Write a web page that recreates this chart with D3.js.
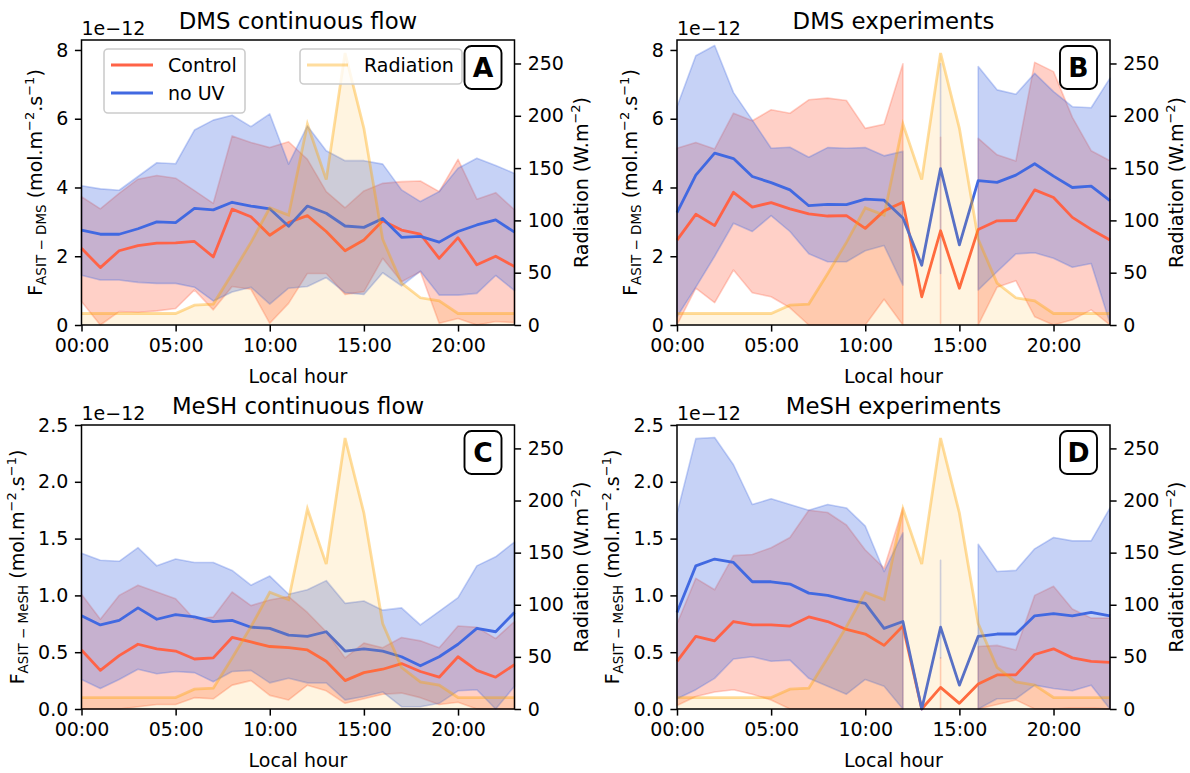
<!DOCTYPE html>
<html><head><meta charset="utf-8">
<script src="https://cdn.jsdelivr.net/npm/d3@7"></script>
<style>body{margin:0;background:#fff} text{font-family:"DejaVu Sans",sans-serif}</style>
</head><body><svg id="c" width="1190" height="773"></svg>
<script>
// ---------- data ----------
const hours = [0,1,2,3,4,5,6,7,8,9,10,11,12,13,14,15,16,17,18,19,20,21,22,23];
const xTickValues = [0,5,10,15,20];
const xTickLabels = ["00:00","05:00","10:00","15:00","20:00"];
const radTicks = [0,50,100,150,200,250];
const dmsTicks = [0,2,4,6,8];
const meshTicks = [0,0.5,1,1.5,2,2.5];
const radiation = [11,11,11,11,11,11,19,20,49,79,112,105,192,139,260,188,82,40,26,23,11,11,11,11];

const A_ctrl_mean = [2.23,1.67,2.16,2.31,2.38,2.39,2.43,1.98,3.37,3.15,2.61,2.98,3.18,2.72,2.16,2.47,3.03,2.76,2.64,1.94,2.54,1.75,2.0,1.70];
const A_ctrl_lo   = [0.68,0.0,0.39,0.37,0.41,0.48,1.02,0.44,1.12,1.04,0.05,0.63,1.50,1.50,0.89,0.97,1.94,1.26,1.55,0.05,0.19,0.0,0.10,0.07];
const A_ctrl_hi   = [3.73,3.38,3.83,4.24,4.35,4.27,3.91,3.54,5.50,5.31,5.16,5.33,4.82,3.88,3.41,3.90,4.12,4.17,4.19,3.88,4.82,3.66,3.85,3.35];
const A_nouv_mean = [2.76,2.64,2.64,2.80,3.0,2.98,3.39,3.35,3.57,3.46,3.38,2.87,3.46,3.25,2.88,2.84,3.10,2.55,2.58,2.41,2.72,2.91,3.06,2.70];
const A_nouv_lo   = [1.45,1.31,1.31,1.24,1.21,1.21,1.10,0.70,0.96,1.10,0.61,1.07,1.12,1.38,0.94,0.89,1.52,1.14,1.57,0.87,0.87,0.92,1.44,1.0];
const A_nouv_hi   = [4.05,3.96,3.92,4.32,4.72,4.69,5.67,5.96,6.10,5.77,6.14,4.68,5.79,5.07,4.78,4.78,4.68,3.93,3.59,3.88,4.56,4.85,4.64,4.41];

const B_ctrl_mean = [2.47,3.22,2.89,3.86,3.43,3.56,3.38,3.23,3.17,3.18,2.81,3.32,3.57,0.82,2.74,1.07,2.78,3.03,3.04,3.93,3.71,3.13,2.78,2.47];
const B_ctrl_lo   = [0.0,1.07,0.65,1.6,0.94,0.82,0.5,0.0,0.0,0.0,0.0,0.75,0.0,null,0.05,null,0.0,1.10,1.29,0.24,0.0,0.15,0.44,0.0];
const B_ctrl_hi   = [5.14,5.31,5.12,6.16,5.94,6.26,6.16,6.55,6.60,6.53,5.72,5.84,7.6,null,5.46,null,5.43,4.95,4.77,7.64,7.37,6.04,5.07,4.78];
const B_nouv_mean = [3.27,4.36,5.0,4.84,4.32,4.14,3.93,3.47,3.51,3.50,3.66,3.63,3.11,1.74,4.55,2.33,4.2,4.15,4.36,4.69,4.33,4.0,4.04,3.62];
const B_nouv_lo   = [0.24,1.1,2.0,2.96,2.72,3.18,2.72,2.07,1.84,1.84,2.16,2.31,1.16,null,1.5,null,1.02,1.55,2.07,2.1,1.94,1.68,1.79,0.05];
const B_nouv_hi   = [6.35,7.83,8.13,6.76,5.96,5.14,5.17,4.88,5.16,5.14,5.16,4.92,5.05,null,7.6,null,7.52,6.84,6.71,7.32,6.79,6.35,6.32,7.18];

const C_ctrl_mean = [0.52,0.34,0.47,0.57,0.53,0.51,0.44,0.45,0.63,0.59,0.55,0.54,0.52,0.42,0.25,0.32,0.35,0.40,0.33,0.28,0.46,0.34,0.28,0.39];
const C_ctrl_lo   = [0,0,0,0.02,0.04,0.04,0.10,0.09,0.21,0.25,0.12,0.08,0.21,0.16,0.05,0.09,0.13,0.14,0.10,0.04,0.06,0,0,0];
const C_ctrl_hi   = [1.01,0.79,1.0,1.09,1.03,0.97,0.79,0.81,1.03,0.91,0.96,0.99,0.85,0.68,0.45,0.58,0.54,0.63,0.60,0.54,0.73,0.72,0.62,0.77];
const C_nouv_mean = [0.82,0.74,0.78,0.89,0.79,0.83,0.81,0.77,0.78,0.72,0.71,0.65,0.64,0.68,0.51,0.53,0.51,0.46,0.38,0.46,0.57,0.71,0.68,0.85];
const C_nouv_lo   = [0.26,0.18,0.26,0.35,0.31,0.33,0.32,0.24,0.33,0.34,0.23,0.27,0.23,0.23,0.08,0.11,0.15,0.02,0.02,0.05,0.16,0.17,0.0,0.20];
const C_nouv_hi   = [1.37,1.31,1.30,1.42,1.26,1.32,1.29,1.29,1.22,1.09,1.17,1.01,1.05,1.13,0.93,0.95,0.87,0.89,0.74,0.86,0.98,1.26,1.34,1.47];

const D_ctrl_mean = [0.42,0.64,0.60,0.77,0.74,0.74,0.73,0.81,0.77,0.70,0.66,0.56,0.73,0.0,0.19,0.05,0.22,0.30,0.30,0.48,0.53,0.45,0.42,0.41];
const D_ctrl_lo   = [0.03,0.11,0.15,0.17,0.13,0.08,0,0,0,0,0,0,0,null,0,null,0,0.04,0.08,0,0,0.01,0.01,0];
const D_ctrl_hi   = [0.75,1.15,1.05,1.35,1.36,1.42,1.51,1.75,1.73,1.62,1.40,1.24,1.77,null,0.45,null,0.55,0.56,0.52,1.0,1.08,0.88,0.80,0.80];
const D_nouv_mean = [0.85,1.26,1.32,1.29,1.12,1.12,1.10,1.02,1.0,0.96,0.93,0.71,0.77,0.0,0.72,0.21,0.64,0.66,0.66,0.82,0.84,0.82,0.85,0.82];
const D_nouv_lo   = [0.09,0.17,0.27,0.44,0.46,0.42,0.43,0.27,0.20,0.13,0.26,0.20,0.0,null,0.45,null,0.0,0.09,0.09,0.21,0.18,0.16,0.21,0.0];
const D_nouv_hi   = [1.72,2.38,2.39,2.15,1.80,1.85,1.80,1.75,1.80,1.77,1.61,1.21,1.55,null,1.31,null,1.45,1.21,1.22,1.41,1.51,1.48,1.48,1.77];

// ---------- drawing ----------
const CTRL = "#ff6347", NOUV = "#4169e1", RAD = "#ffa500";
const FS = 19;
const svg = d3.select("#c");

const panels = [
  {key:"A", title:"DMS continuous flow", sub:"DMS", left:81.5, top:40, w:433, h:285, ymax:8.29, yticks:dmsTicks, fmt:d3.format("d"), legend:true,
   cm:A_ctrl_mean, cl:A_ctrl_lo, ch:A_ctrl_hi, nm:A_nouv_mean, nl:A_nouv_lo, nh:A_nouv_hi},
  {key:"B", title:"DMS experiments", sub:"DMS", left:677, top:40, w:433, h:285, ymax:8.29, yticks:dmsTicks, fmt:d3.format("d"), legend:false,
   cm:B_ctrl_mean, cl:B_ctrl_lo, ch:B_ctrl_hi, nm:B_nouv_mean, nl:B_nouv_lo, nh:B_nouv_hi},
  {key:"C", title:"MeSH continuous flow", sub:"MeSH", left:81.5, top:425, w:433, h:284, ymax:2.5, yticks:meshTicks, fmt:d3.format(".1f"), legend:false,
   cm:C_ctrl_mean, cl:C_ctrl_lo, ch:C_ctrl_hi, nm:C_nouv_mean, nl:C_nouv_lo, nh:C_nouv_hi},
  {key:"D", title:"MeSH experiments", sub:"MeSH", left:677, top:425, w:433, h:284, ymax:2.5, yticks:meshTicks, fmt:d3.format(".1f"), legend:false,
   cm:D_ctrl_mean, cl:D_ctrl_lo, ch:D_ctrl_hi, nm:D_nouv_mean, nl:D_nouv_lo, nh:D_nouv_hi}
];

function styleAxis(g){
  g.select(".domain").remove();
  g.selectAll(".tick line").attr("stroke","#000").attr("stroke-width",1.5);
  g.selectAll(".tick text").attr("font-size",FS).attr("font-family","DejaVu Sans").attr("fill","#000");
}

panels.forEach(p => {
  const x = d3.scaleLinear().domain([0,23]).range([p.left, p.left+p.w]);
  const y = d3.scaleLinear().domain([0,p.ymax]).range([p.top+p.h, p.top]);
  const yr = d3.scaleLinear().domain([0,272.45]).range([p.top+p.h, p.top]);
  const g = svg.append("g");

  const area = d3.area().defined(d => d[1]!=null && d[2]!=null)
    .x(d => x(d[0])).y0(d => y(d[1])).y1(d => y(d[2]));
  const line = d3.line().x(d => x(d[0])).y(d => y(d[1]));

  [[p.cl,p.ch,CTRL],[p.nl,p.nh,NOUV]].forEach(([lo,hi,col]) => {
    g.append("path").attr("d", area(hours.map((h,i)=>[h,lo[i],hi[i]])))
      .attr("fill",col).attr("fill-opacity",0.3)
      .attr("stroke",col).attr("stroke-opacity",0.3).attr("stroke-width",1.6).attr("stroke-linejoin","round");
  });
  [[p.cm,CTRL],[p.nm,NOUV]].forEach(([m,col]) => {
    g.append("path").attr("d", line(hours.map((h,i)=>[h,m[i]])))
      .attr("fill","none").attr("stroke",col).attr("stroke-width",2.8).attr("stroke-linejoin","round");
  });

  // radiation (twin axis)
  const rArea = d3.area().x(d=>x(d[0])).y0(yr(0)).y1(d=>yr(d[1]));
  const rLine = d3.line().x(d=>x(d[0])).y(d=>yr(d[1]));
  const rd = hours.map((h,i)=>[h,radiation[i]]);
  g.append("path").attr("d", rArea(rd)).attr("fill",RAD).attr("fill-opacity",0.12);
  g.append("path").attr("d", rLine(rd)).attr("fill","none").attr("stroke",RAD).attr("stroke-opacity",0.38).attr("stroke-width",2.8);

  // axes
  const ax = g.append("g").attr("transform",`translate(0,${p.top+p.h})`)
    .call(d3.axisBottom(x).tickValues(xTickValues).tickFormat((d,i)=>xTickLabels[i]).tickSize(6.6).tickPadding(6.6));
  styleAxis(ax);
  const ay = g.append("g").attr("transform",`translate(${p.left},0)`)
    .call(d3.axisLeft(y).tickValues(p.yticks).tickFormat(p.fmt).tickSize(6.6).tickPadding(6.6));
  styleAxis(ay);
  const ar = g.append("g").attr("transform",`translate(${p.left+p.w},0)`)
    .call(d3.axisRight(yr).tickValues(radTicks).tickFormat(d3.format("d")).tickSize(6.6).tickPadding(6.6));
  styleAxis(ar);

  g.append("rect").attr("x",p.left).attr("y",p.top).attr("width",p.w).attr("height",p.h)
    .attr("fill","none").attr("stroke","#000").attr("stroke-width",1.5);

  // texts
  g.append("text").attr("x",p.left+p.w/2).attr("y",p.top-11.4).attr("text-anchor","middle")
    .attr("font-size",22.8).text(p.title);
  g.append("text").attr("x",p.left).attr("y",p.top-5.5).attr("font-size",FS).text("1e\u221212");
  g.append("text").attr("x",p.left+p.w/2).attr("y",p.top+p.h+58).attr("text-anchor","middle")
    .attr("font-size",FS).text("Local hour");

  // left y label
  const lx = p.left - (p.sub==="DMS" ? 40 : 58);
  const t = g.append("text").attr("transform",`translate(${lx},${p.top+p.h/2}) rotate(-90)`)
    .attr("text-anchor","middle").attr("font-size",FS);
  t.append("tspan").text("F");
  t.append("tspan").attr("font-size",13.5).attr("dy",4).text("ASIT \u2212 "+p.sub);
  t.append("tspan").attr("dy",-4).text(" (mol.m");
  t.append("tspan").attr("font-size",13).attr("dy",-8).text("\u22122");
  t.append("tspan").attr("dy",8).text(".s");
  t.append("tspan").attr("font-size",13).attr("dy",-8).text("\u22121");
  t.append("tspan").attr("dy",8).text(")");

  // right y label
  const rx = p.left + p.w + 73;
  const tr = g.append("text").attr("transform",`translate(${rx},${p.top+p.h/2}) rotate(-90)`)
    .attr("text-anchor","middle").attr("font-size",FS);
  tr.append("tspan").text("Radiation (W.m");
  tr.append("tspan").attr("font-size",13).attr("dy",-8).text("\u22122");
  tr.append("tspan").attr("dy",8).text(")");

  // legends
  if (p.legend) {
    const L = g.append("g");
    L.append("rect").attr("x",p.left+22.5).attr("y",p.top+9).attr("width",141).attr("height",64).attr("rx",4)
      .attr("fill","#fff").attr("fill-opacity",0.8).attr("stroke","#cccccc").attr("stroke-width",1.6);
    [["Control",CTRL,25],["no UV",NOUV,53]].forEach(([lab,col,dy]) => {
      L.append("line").attr("x1",p.left+29.5).attr("x2",p.left+71.5).attr("y1",p.top+dy).attr("y2",p.top+dy)
        .attr("stroke",col).attr("stroke-width",2.8);
      L.append("text").attr("x",p.left+86.5).attr("y",p.top+dy+7).attr("font-size",FS).text(lab);
    });
    L.append("rect").attr("x",p.left+218.5).attr("y",p.top+9).attr("width",162).attr("height",35).attr("rx",4)
      .attr("fill","#fff").attr("fill-opacity",0.8).attr("stroke","#cccccc").attr("stroke-width",1.6);
    L.append("line").attr("x1",p.left+225.5).attr("x2",p.left+266.5).attr("y1",p.top+25).attr("y2",p.top+25)
      .attr("stroke",RAD).attr("stroke-opacity",0.38).attr("stroke-width",2.8);
    L.append("text").attr("x",p.left+282.5).attr("y",p.top+32).attr("font-size",FS).text("Radiation");
  }

  // panel letter
  g.append("rect").attr("x",p.left+p.w-50).attr("y",p.top+6).attr("width",37).attr("height",43).attr("rx",7)
    .attr("fill","#fff").attr("stroke","#000").attr("stroke-width",1.9);
  g.append("text").attr("x",p.left+p.w-31.5).attr("y",p.top+37).attr("text-anchor","middle")
    .attr("font-size",26.6).attr("font-weight","bold").text(p.key);
});
</script></body></html>
